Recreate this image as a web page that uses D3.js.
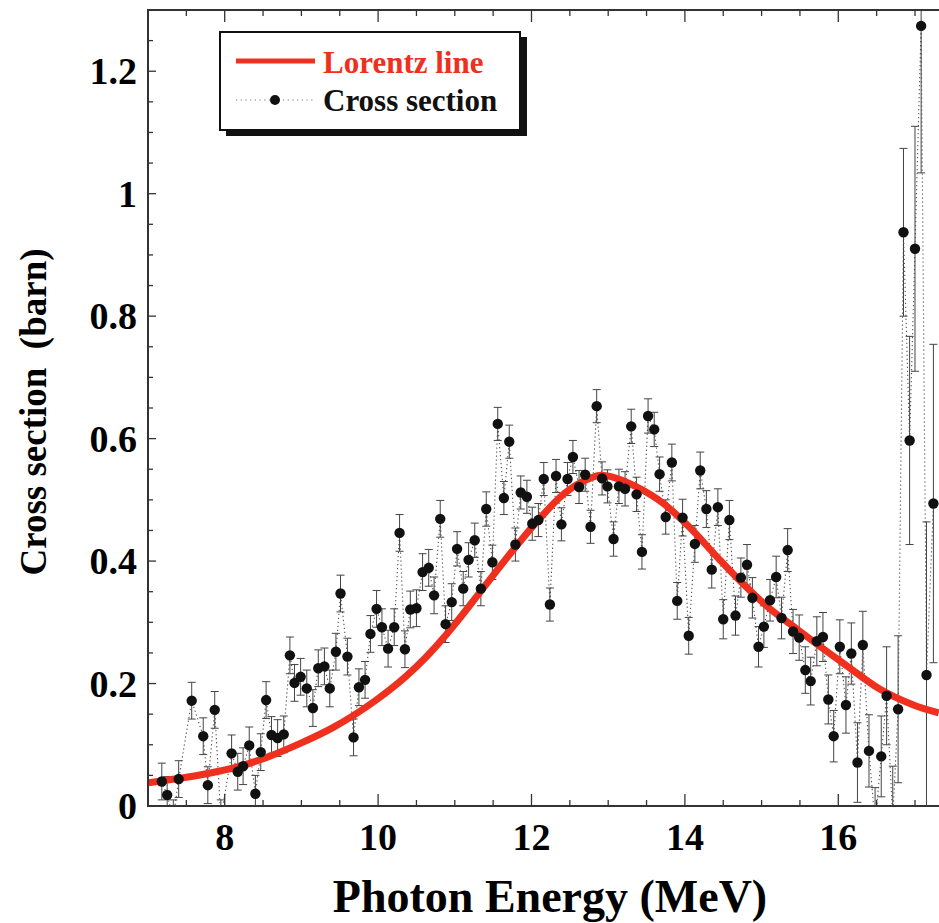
<!DOCTYPE html>
<html>
<head>
<meta charset="utf-8">
<script src="https://cdn.jsdelivr.net/npm/d3@7"></script>
<style>
  html, body { margin: 0; padding: 0; background: #fff; }
  svg { display: block; font-family: "Liberation Serif", "Times New Roman", serif; font-weight: bold; }
</style>
</head>
<body>
<div id="chart"></div>
<script>
// photon energy (MeV) of each measured point
const energy = [
  7.18, 7.25, 7.33, 7.40, 7.57, 7.72, 7.78, 7.87, 7.95, 8.09,
  8.17, 8.24, 8.32, 8.40, 8.47, 8.54, 8.61, 8.69, 8.77, 8.85,
  8.91, 8.99, 9.07, 9.15, 9.22, 9.30, 9.37, 9.45, 9.51, 9.60,
  9.68, 9.75, 9.83, 9.90, 9.98, 10.05, 10.13, 10.21, 10.28, 10.35,
  10.42, 10.50, 10.58, 10.66, 10.73, 10.81, 10.88, 10.96, 11.03, 11.11,
  11.18, 11.26, 11.34, 11.41, 11.49, 11.56, 11.64, 11.71, 11.79, 11.86,
  11.94, 12.01, 12.09, 12.16, 12.24, 12.32, 12.39, 12.47, 12.54, 12.62,
  12.70, 12.77, 12.85, 12.92, 12.99, 13.07, 13.14, 13.22, 13.30, 13.37,
  13.44, 13.52, 13.60, 13.67, 13.75, 13.83, 13.90, 13.97, 14.05, 14.13,
  14.20, 14.28, 14.35, 14.43, 14.50, 14.58, 14.66, 14.73, 14.81, 14.88,
  14.96, 15.03, 15.11, 15.19, 15.26, 15.34, 15.41, 15.49, 15.57, 15.64,
  15.72, 15.80, 15.87, 15.94, 16.02, 16.10, 16.17, 16.25, 16.32, 16.40,
  16.48, 16.56, 16.63, 16.71, 16.78, 16.85, 16.93, 17.00, 17.08, 17.15,
  17.24
];

// measured cross section (barn)
const crossSection = [
  0.040, 0.018, -0.020, 0.044, 0.172, 0.114, 0.034, 0.157, -0.020, 0.086,
  0.056, 0.065, 0.099, 0.020, 0.088, 0.173, 0.116, 0.111, 0.117, 0.246,
  0.201, 0.211, 0.192, 0.160, 0.225, 0.228, 0.192, 0.252, 0.347, 0.244,
  0.112, 0.194, 0.206, 0.281, 0.322, 0.292, 0.257, 0.292, 0.446, 0.256,
  0.321, 0.323, 0.382, 0.389, 0.344, 0.469, 0.297, 0.333, 0.420, 0.355,
  0.402, 0.434, 0.355, 0.485, 0.398, 0.624, 0.503, 0.595, 0.427, 0.512,
  0.505, 0.461, 0.467, 0.534, 0.329, 0.539, 0.460, 0.534, 0.570, 0.521,
  0.541, 0.456, 0.653, 0.535, 0.522, 0.436, 0.522, 0.518, 0.620, 0.509,
  0.415, 0.637, 0.615, 0.542, 0.472, 0.561, 0.335, 0.471, 0.278, 0.428,
  0.548, 0.485, 0.386, 0.488, 0.305, 0.467, 0.311, 0.373, 0.394, 0.340,
  0.260, 0.293, 0.336, 0.374, 0.307, 0.418, 0.285, 0.275, 0.222, 0.204,
  0.269, 0.276, 0.174, 0.114, 0.260, 0.165, 0.249, 0.071, 0.263, 0.090,
  -0.030, 0.081, 0.180, -0.020, 0.158, 0.937, 0.597, 0.910, 1.274, 0.214,
  0.494
];

// statistical error (barn)
const crossErr = [
  0.030, 0.030, 0.030, 0.030, 0.030, 0.030, 0.030, 0.030, 0.030, 0.030,
  0.030, 0.030, 0.030, 0.030, 0.030, 0.030, 0.030, 0.030, 0.030, 0.030,
  0.030, 0.030, 0.030, 0.030, 0.030, 0.030, 0.030, 0.030, 0.030, 0.030,
  0.030, 0.030, 0.030, 0.030, 0.030, 0.030, 0.030, 0.030, 0.030, 0.030,
  0.030, 0.030, 0.030, 0.030, 0.030, 0.030, 0.030, 0.030, 0.028, 0.028,
  0.028, 0.028, 0.028, 0.028, 0.028, 0.027, 0.027, 0.027, 0.027, 0.027,
  0.027, 0.027, 0.027, 0.027, 0.027, 0.027, 0.027, 0.027, 0.027, 0.027,
  0.027, 0.027, 0.027, 0.027, 0.027, 0.028, 0.028, 0.028, 0.028, 0.028,
  0.028, 0.028, 0.028, 0.028, 0.028, 0.030, 0.030, 0.030, 0.030, 0.030,
  0.030, 0.030, 0.030, 0.030, 0.032, 0.032, 0.032, 0.032, 0.033, 0.033,
  0.033, 0.034, 0.034, 0.034, 0.034, 0.035, 0.036, 0.037, 0.038, 0.039,
  0.040, 0.040, 0.040, 0.042, 0.044, 0.046, 0.050, 0.065, 0.055, 0.059,
  0.060, 0.066, 0.080, 0.085, 0.120, 0.137, 0.170, 0.200, 0.240, 0.250,
  0.260
];

// Lorentz fit, points
const lorentzE = [7.0, 7.4, 7.78, 8.2, 8.54, 9.0, 9.41, 9.68, 9.98, 10.37, 10.63, 10.89,
  11.0, 11.34, 11.78, 12.05, 12.44, 12.74, 12.91, 13.09, 13.37, 13.72, 14.07,
  14.41, 14.78, 15.11, 15.45, 15.67, 16.11, 16.54, 16.98, 17.31];
const lorentzV = [0.038, 0.045, 0.053, 0.065, 0.079, 0.103, 0.128, 0.148, 0.1735, 0.2125, 0.2437, 0.280,
  0.2967, 0.351, 0.421, 0.4615, 0.5115, 0.534, 0.540, 0.536, 0.521, 0.494, 0.454,
  0.408, 0.360, 0.322, 0.290, 0.269, 0.229, 0.191, 0.165, 0.152];

const xMajor = [8, 10, 12, 14, 16];
const yMajor = [0, 0.2, 0.4, 0.6, 0.8, 1, 1.2];
const yLabels = ['0', '0.2', '0.4', '0.6', '0.8', '1', '1.2'];

const W = 939, H = 923;
const plot = { left: 148, right: 938, top: 10, bottom: 806 };

const svg = d3.select('#chart').append('svg')
  .attr('width', W).attr('height', H);

const x = d3.scaleLinear().domain([7, 17.3]).range([plot.left, plot.right]);
const y = d3.scaleLinear().domain([0, 1.3]).range([plot.bottom, plot.top]);

svg.append('defs').append('clipPath').attr('id', 'clip')
  .append('rect')
  .attr('x', plot.left).attr('y', plot.top)
  .attr('width', W - plot.left).attr('height', plot.bottom - plot.top);

const points = energy.map((e, i) => ({ e, v: crossSection[i], err: crossErr[i] }));
const fit = lorentzE.map((e, i) => ({ e, v: lorentzV[i] }));

const g = svg.append('g').attr('clip-path', 'url(#clip)');

// dotted line joining the measured points
g.append('path')
  .datum(points)
  .attr('fill', 'none')
  .attr('stroke', '#555')
  .attr('stroke-width', 1.1)
  .attr('stroke-dasharray', '1.3,2.7')
  .attr('d', d3.line().x(d => x(d.e)).y(d => y(d.v)));

// error bars
const bars = g.selectAll('.err').data(points).enter().append('g').attr('class', 'err')
  .attr('stroke', '#444').attr('stroke-width', 1);
bars.append('line')
  .attr('x1', d => x(d.e)).attr('x2', d => x(d.e))
  .attr('y1', d => y(d.v + d.err)).attr('y2', d => y(d.v - d.err));
bars.append('line')
  .attr('x1', d => x(d.e) - 4).attr('x2', d => x(d.e) + 4)
  .attr('y1', d => y(d.v + d.err)).attr('y2', d => y(d.v + d.err));
bars.append('line')
  .attr('x1', d => x(d.e) - 4).attr('x2', d => x(d.e) + 4)
  .attr('y1', d => y(d.v - d.err)).attr('y2', d => y(d.v - d.err));

// Lorentz line
g.append('path')
  .datum(fit)
  .attr('fill', 'none')
  .attr('stroke', '#f0301e')
  .attr('stroke-width', 7)
  .attr('d', d3.line().x(d => x(d.e)).y(d => y(d.v)).curve(d3.curveMonotoneX));

// dots
g.selectAll('.dot').data(points).enter().append('circle')
  .attr('class', 'dot')
  .attr('cx', d => x(d.e)).attr('cy', d => y(d.v))
  .attr('r', 5.2)
  .attr('fill', '#111');

// frame
svg.append('path')
  .attr('fill', 'none').attr('stroke', '#333').attr('stroke-width', 2)
  .attr('d', `M${W + 2},${plot.top}H${plot.left}V${plot.bottom}H${W + 2}`);

// ticks (inward)
const xMinor = d3.range(7.5, 17.31, 0.5).filter(v => !xMajor.includes(v));
const yMinor = d3.range(0.05, 1.3, 0.05).filter(v => !yMajor.some(m => Math.abs(m - v) < 1e-6));

function xTicks(values, len) {
  svg.append('g').selectAll('line').data(values).enter().append('line')
    .attr('x1', d => x(d)).attr('x2', d => x(d))
    .attr('y1', plot.bottom).attr('y2', plot.bottom - len)
    .attr('stroke', '#333').attr('stroke-width', 1.3);
  svg.append('g').selectAll('line').data(values).enter().append('line')
    .attr('x1', d => x(d)).attr('x2', d => x(d))
    .attr('y1', plot.top).attr('y2', plot.top + len)
    .attr('stroke', '#333').attr('stroke-width', 1.3);
}
function yTicks(values, len) {
  svg.append('g').selectAll('line').data(values).enter().append('line')
    .attr('x1', plot.left).attr('x2', plot.left + len)
    .attr('y1', d => y(d)).attr('y2', d => y(d))
    .attr('stroke', '#333').attr('stroke-width', 1.3);
}
xTicks(xMajor, 12);
xTicks(xMinor, 6);
yTicks(yMajor, 8);
yTicks(yMinor, 5);

// tick labels
svg.append('g').selectAll('text').data(xMajor).enter().append('text')
  .attr('x', d => x(d)).attr('y', 850)
  .attr('text-anchor', 'middle')
  .style('font-size', '38px')
  .text(d => d);

svg.append('g').selectAll('text').data(yMajor).enter().append('text')
  .attr('x', 137).attr('y', d => y(d) + 13)
  .attr('text-anchor', 'end')
  .style('font-size', '38px')
  .text((d, i) => yLabels[i]);

// axis titles
svg.append('text')
  .attr('x', 550).attr('y', 912)
  .attr('text-anchor', 'middle')
  .style('font-size', '46px')
  .text('Photon Energy (MeV)');

svg.append('text')
  .attr('transform', 'translate(46,412) rotate(-90)')
  .attr('text-anchor', 'middle')
  .style('font-size', '37px')
  .style('white-space', 'pre')
  .text('Cross section  (barn)');

// legend
const lg = svg.append('g');
lg.append('rect')
  .attr('x', 226).attr('y', 37).attr('width', 301).attr('height', 99)
  .attr('fill', '#111');
lg.append('rect')
  .attr('x', 220).attr('y', 32).attr('width', 300).attr('height', 98)
  .attr('fill', '#fff').attr('stroke', '#111').attr('stroke-width', 2);
lg.append('line')
  .attr('x1', 236).attr('x2', 315).attr('y1', 61).attr('y2', 61)
  .attr('stroke', '#f0301e').attr('stroke-width', 5);
lg.append('text')
  .attr('x', 323).attr('y', 73)
  .attr('fill', '#f0301e')
  .style('font-size', '31px')
  .text('Lorentz line');
lg.append('line')
  .attr('x1', 236).attr('x2', 315).attr('y1', 100).attr('y2', 100)
  .attr('stroke', '#777').attr('stroke-width', 1).attr('stroke-dasharray', '1.2,3.5');
lg.append('circle')
  .attr('cx', 275).attr('cy', 100).attr('r', 5)
  .attr('fill', '#111');
lg.append('text')
  .attr('x', 323).attr('y', 111)
  .attr('fill', '#111')
  .style('font-size', '31px')
  .text('Cross section');
</script>
</body>
</html>
